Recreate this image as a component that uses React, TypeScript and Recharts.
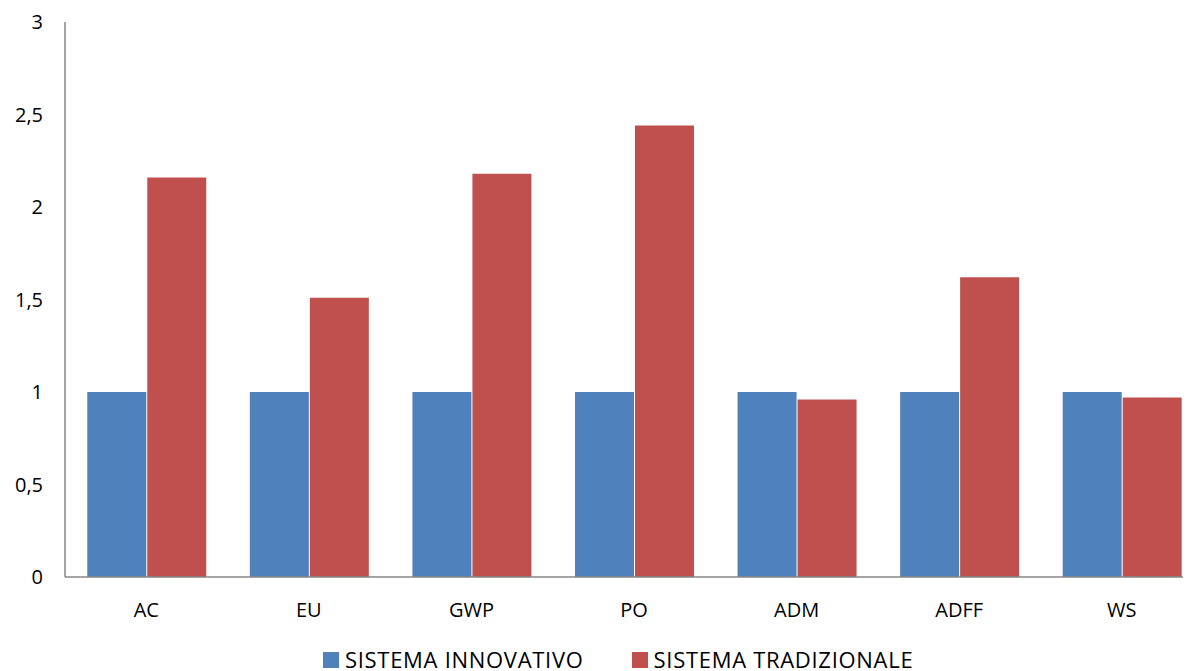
import React from "react";
import { BarChart, Bar, XAxis, YAxis, Legend } from "recharts";

const categories = ["AC", "EU", "GWP", "PO", "ADM", "ADFF", "WS"];
const innovativo = [1, 1, 1, 1, 1, 1, 1];
const tradizionale = [2.16, 1.51, 2.18, 2.44, 0.96, 1.62, 0.97];
const yTicks = [0, 0.5, 1, 1.5, 2, 2.5, 3];

const data = categories.map((c, i) => ({
  name: c,
  inn: innovativo[i],
  trad: tradizionale[i],
}));

const FONT = "'Open Sans', sans-serif";

const renderLegend = (props: any) => {
  const { payload } = props;
  return (
    <div style={{ display: "flex", justifyContent: "flex-start", fontFamily: FONT, paddingLeft: 315 }}>
      {payload.map((p: any, i: number) => (
        <div key={i} style={{ display: "flex", alignItems: "flex-start", marginRight: i === 0 ? 48 : 0 }}>
          <div style={{ width: 16, height: 16, background: p.color, marginRight: 6, marginTop: 4 }} />
          <span
            style={{
              display: "inline-block",
              fontSize: 22,
              lineHeight: "22px",
              color: "#000",
              letterSpacing: 0.7,
              whiteSpace: "nowrap",
            }}
          >
            {p.value}
          </span>
        </div>
      ))}
    </div>
  );
};

export default function App() {
  return (
    <div style={{ width: 1183, height: 663, overflow: "hidden" }}>
      <BarChart
        width={1200}
        height={680}
        data={data}
        margin={{ top: 14, right: 5, left: 0, bottom: 59 }}
        barGap={1}
        barCategoryGap="13.7%"
      >
        <XAxis
          dataKey="name"
          axisLine={{ stroke: "#868686", strokeWidth: 1.5 }}
          tickLine={false}
          tickSize={0}
          tickMargin={26}
          tick={{ fill: "#000", fontSize: 20, fontFamily: FONT }}
          interval={0}
        />
        <YAxis
          width={57}
          domain={[0, 3]}
          ticks={yTicks}
          axisLine={{ stroke: "#868686", strokeWidth: 1.5 }}
          tickLine={false}
          tickSize={0}
          tickMargin={22}
          tickFormatter={(v: number) => String(v).replace(".", ",")}
          tick={{ fill: "#000", fontSize: 20, fontFamily: FONT }}
          interval={0}
        />
        <Legend
          content={renderLegend}
          wrapperStyle={{ top: 640, left: 0, width: 1183 }}
        />
        <Bar dataKey="inn" name="SISTEMA INNOVATIVO" fill="#4F81BD" isAnimationActive={false} />
        <Bar dataKey="trad" name="SISTEMA TRADIZIONALE" fill="#C0504D" isAnimationActive={false} />
      </BarChart>
    </div>
  );
}
